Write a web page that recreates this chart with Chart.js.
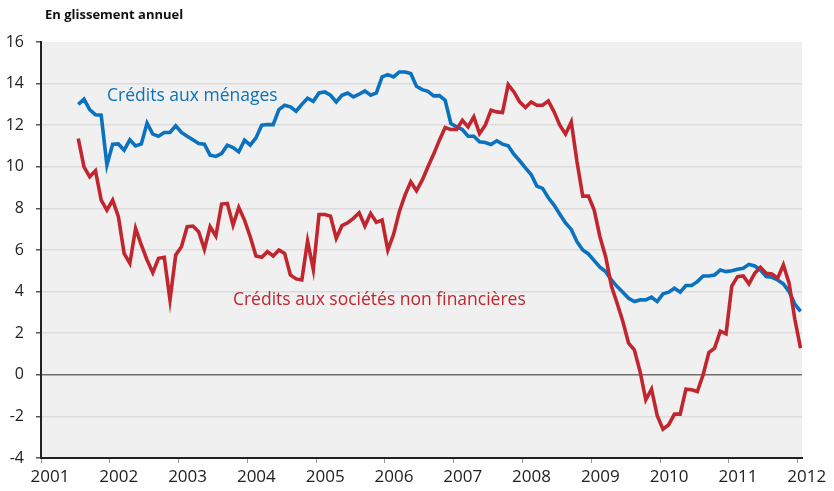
<!DOCTYPE html>
<html lang="fr">
<head>
<meta charset="utf-8">
<script src="https://cdn.jsdelivr.net/npm/chart.js@4/dist/chart.umd.min.js"></script>
<style>
  body { margin: 0; background: #ffffff; }
  canvas { display: block; }
</style>
</head>
<body>
<canvas id="creditChart" width="834" height="491"></canvas>
<script>
// Séries mensuelles, juillet 2001 -> janvier 2012 (glissement annuel, %)
const startYear = 2001;
const startMonth = 7;

const menages = [
    13.0, 13.25, 12.75, 12.5, 12.48, 10.08, 11.09, 11.1, 10.8, 11.3,
    11.0, 11.1, 12.1, 11.57, 11.47, 11.65, 11.65, 11.97, 11.65, 11.47,
    11.3, 11.12, 11.09, 10.56, 10.5, 10.64, 11.04, 10.93, 10.72, 11.28,
    11.04, 11.39, 12.0, 12.03, 12.03, 12.75, 12.96, 12.88, 12.67, 13.0,
    13.3, 13.15, 13.55, 13.6, 13.44, 13.12, 13.44, 13.55, 13.36, 13.49,
    13.65, 13.44, 13.55, 14.32, 14.43, 14.32, 14.56, 14.56, 14.48, 13.87,
    13.71, 13.63, 13.41, 13.42, 13.2, 12.08, 11.92, 11.79, 11.47, 11.47,
    11.2, 11.17, 11.07, 11.25, 11.09, 11.01, 10.6, 10.29, 9.95, 9.63,
    9.07, 8.96, 8.51, 8.16, 7.72, 7.3, 6.99, 6.4, 6.0, 5.81,
    5.49, 5.17, 4.96, 4.56, 4.24, 3.97, 3.68, 3.52, 3.6, 3.6,
    3.73, 3.52, 3.89, 3.97, 4.16, 3.97, 4.29, 4.29, 4.48, 4.75,
    4.75, 4.8, 5.04, 4.96, 5.0, 5.07, 5.12, 5.31, 5.23, 5.04,
    4.72, 4.69, 4.56, 4.37, 4.0, 3.4, 3.05
];

const societes = [
    11.36, 10.0, 9.52, 9.81, 8.4, 7.92, 8.4, 7.6, 5.84, 5.36,
    7.04, 6.24, 5.52, 4.91, 5.6, 5.65, 3.6, 5.76, 6.16, 7.12,
    7.15, 6.88, 6.03, 7.12, 6.67, 8.21, 8.24, 7.2, 8.05, 7.44,
    6.64, 5.71, 5.65, 5.92, 5.71, 6.0, 5.84, 4.8, 4.61, 4.56,
    6.43, 5.07, 7.71, 7.71, 7.63, 6.56, 7.17, 7.31, 7.52, 7.79,
    7.15, 7.76, 7.33, 7.44, 6.0, 6.75, 7.84, 8.64, 9.28, 8.85,
    9.36, 10.0, 10.61, 11.28, 11.89, 11.79, 11.79, 12.24, 11.92, 12.4,
    11.6, 12.0, 12.72, 12.64, 12.61, 13.95, 13.6, 13.12, 12.85, 13.12,
    12.96, 12.96, 13.17, 12.64, 12.0, 11.57, 12.16, 10.24, 8.59, 8.59,
    7.92, 6.64, 5.68, 4.27, 3.44, 2.56, 1.52, 1.2, 0.16, -1.2,
    -0.69, -1.97, -2.61, -2.4, -1.89, -1.89, -0.69, -0.72, -0.8, 0.0,
    1.07, 1.28, 2.1, 1.97, 4.27, 4.72, 4.75, 4.37, 4.88, 5.17,
    4.88, 4.85, 4.64, 5.28, 4.4, 2.67, 1.28
];

const yearTicks = [2001, 2002, 2003, 2004, 2005, 2006, 2007, 2008, 2009, 2010, 2011, 2012];
const valueTicks = [-4, -2, 0, 2, 4, 6, 8, 10, 12, 14, 16];

const yAxisTitle = 'En glissement annuel';
const labelMenages = 'Crédits aux ménages';
const labelSocietes = 'Crédits aux sociétés non financières';

const BLUE = '#0a72bf';
const RED = '#c1262e';
const FONT = '"Open Sans", "Noto Sans", sans-serif';

// position d'un mois au milieu de celui-ci
function toPoints(values) {
    return values.map((v, i) => ({
        x: startYear + (startMonth - 1 + i + 0.5) / 12,
        y: v
    }));
}

// fond gris de la zone de tracé
const plotBackground = {
    id: 'plotBackground',
    beforeDraw(chart) {
        const { ctx, chartArea: a } = chart;
        ctx.save();
        ctx.fillStyle = '#f0f0f0';
        ctx.fillRect(a.left, a.top, a.right - a.left, a.bottom - a.top);
        ctx.restore();
    }
};

// titre de l'axe et étiquettes des courbes
const textLabels = {
    id: 'textLabels',
    afterDraw(chart) {
        const { ctx } = chart;
        const xs = chart.scales.x;
        const ys = chart.scales.y;
        ctx.save();
        ctx.textBaseline = 'middle';
        ctx.textAlign = 'left';

        ctx.font = 'bold 13px ' + FONT;
        ctx.fillStyle = '#111';
        ctx.fillText(yAxisTitle, 45, 15);

        ctx.font = '17.5px ' + FONT;
        ctx.fillStyle = BLUE;
        ctx.fillText(labelMenages, xs.getPixelForValue(2001.96), ys.getPixelForValue(13.39));

        ctx.fillStyle = RED;
        ctx.fillText(labelSocietes, xs.getPixelForValue(2003.79), ys.getPixelForValue(3.6));
        ctx.restore();
    }
};

const ctx = document.getElementById('creditChart').getContext('2d');
new Chart(ctx, {
    type: 'line',
    data: {
        datasets: [
            {
                label: labelSocietes,
                data: toPoints(societes),
                borderColor: RED,
                borderWidth: 3.6,
                pointRadius: 0,
                tension: 0,
                fill: false
            },
            {
                label: labelMenages,
                data: toPoints(menages),
                borderColor: BLUE,
                borderWidth: 3.6,
                pointRadius: 0,
                tension: 0,
                fill: false
            }
        ]
    },
    options: {
        responsive: false,
        animation: false,
        devicePixelRatio: 1,
        layout: {
            padding: { top: 42, right: 32, left: 0, bottom: 0 }
        },
        scales: {
            x: {
                type: 'linear',
                min: 2001,
                max: 2012.0625,
                afterFit: scale => { scale.height = 33; },
                afterBuildTicks: scale => {
                    scale.ticks = yearTicks.map(v => ({ value: v }));
                },
                border: { display: true, color: '#222', width: 2 },
                grid: {
                    drawOnChartArea: false,
                    drawTicks: true,
                    tickLength: 5,
                    tickColor: '#999'
                },
                ticks: {
                    autoSkip: false,
                    maxRotation: 0,
                    padding: 4,
                    labelOffset: 9,
                    color: '#222',
                    font: { family: FONT, size: 17 },
                    callback: v => String(v)
                }
            },
            y: {
                min: -4,
                max: 16,
                afterFit: scale => { scale.width = 41; },
                afterBuildTicks: scale => {
                    scale.ticks = valueTicks.map(v => ({ value: v }));
                },
                border: { display: true, color: '#222', width: 2 },
                grid: {
                    color: c => {
                        if (c.tick.value === 0) return '#6e6e6e';
                        if (c.tick.value === 16 || c.tick.value === -4) return 'rgba(0,0,0,0)';
                        return '#dcdcdc';
                    },
                    lineWidth: 1.5,
                    drawTicks: true,
                    tickLength: 5,
                    tickColor: '#555'
                },
                ticks: {
                    padding: 12,
                    color: '#222',
                    font: { family: FONT, size: 16 },
                    callback: v => String(v)
                }
            }
        },
        plugins: {
            legend: { display: false },
            tooltip: { enabled: false },
            title: { display: false }
        }
    },
    plugins: [plotBackground, textLabels]
});
</script>
</body>
</html>
